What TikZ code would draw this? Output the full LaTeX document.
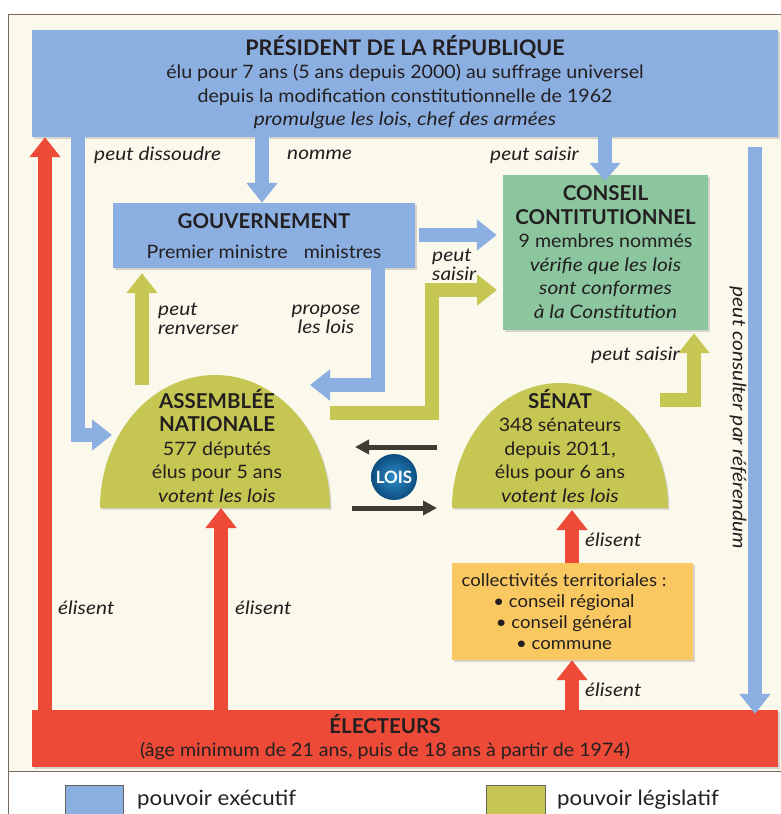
\documentclass[tikz,border=0pt]{standalone}
\usepackage{fontspec}
\setmainfont{Lato}[UprightFeatures={FakeStretch=1.06}, ItalicFeatures={FakeStretch=1.13}, BoldFeatures={FakeStretch=1.0}, BoldItalicFeatures={FakeStretch=1.0}]
\usetikzlibrary{arrows.meta,shadows,calc}
\definecolor{bgc}{RGB}{251,248,236}
\definecolor{framec}{RGB}{120,105,95}
\definecolor{cblue}{RGB}{140,175,225}
\definecolor{colive}{RGB}{197,199,82}
\definecolor{cgreen}{RGB}{140,198,158}
\definecolor{cred}{RGB}{238,74,56}
\definecolor{cyel}{RGB}{249,200,96}
\definecolor{cdark}{RGB}{62,58,52}
\definecolor{cloisin}{RGB}{45,140,200}
\definecolor{cloisout}{RGB}{14,78,128}
\definecolor{ctext}{RGB}{35,31,32}
\begin{document}
\begin{tikzpicture}[x=1pt,y=-1pt,
  every node/.style={text=ctext},
  body/.style={font=\fontsize{18.5}{23.5}\selectfont},
  big/.style={font=\fontsize{20.5}{24}\selectfont\bfseries},
  lbl/.style={font=\fontsize{18.5}{19}\selectfont\itshape, inner sep=0pt},
  box/.style={draw=none, inner sep=0pt, drop shadow={shadow xshift=1.5pt, shadow yshift=-1.5pt, opacity=0.3}},
  band/.style={line width=14pt, -{Triangle[width=30pt,length=20pt]}},
  bluearr/.style={band, draw=cblue},
  redarr/.style={band, draw=cred},
  olivearr/.style={band, draw=colive},
  darkarr/.style={line width=5pt, draw=cdark, -{Triangle[width=14pt,length=14pt]}},
  legsq/.style={draw=ctext!70, line width=0.6pt}
]
\useasboundingbox (0,0) rectangle (781,814);
\fill[white] (0,0) rectangle (781,814);
\fill[bgc] (8,14) rectangle (781,771);
\draw[framec, line width=0.8pt] (8,814) -- (8,14) -- (781,14);
\draw[framec, line width=0.8pt] (8,771) -- (781,771);

% boxes
\node[box, fill=cblue, minimum width=746pt, minimum height=107pt] (pres) at (405,83.5) {};
\node[body, align=center] (ptxt) at (405,82) {{\fontsize{21.5}{24}\selectfont\bfseries PRÉSIDENT DE LA RÉPUBLIQUE}\\
 élu pour 7 ans (5 ans depuis 2000) au suffrage universel\\
 depuis la modification constitutionnelle de 1962\\
 \itshape promulgue les lois, chef des armées};

\node[box, fill=cblue, minimum width=302pt, minimum height=65pt] (gov) at (264,235.5) {};
\node[big] (govt) at (264,221) {GOUVERNEMENT};
\node[body] (govm) at (264,252) {Premier ministre\hspace{16pt}ministres};

\node[box, fill=cgreen, minimum width=205pt, minimum height=155pt] (cc) at (605.5,252.5) {};
\node[body, align=center] (cct) at (605.5,252) {{\fontsize{20.5}{24}\selectfont\bfseries CONSEIL}\\
 {\fontsize{20.5}{24}\selectfont\bfseries CONTITUTIONNEL}\\
 9 membres nommés\\
 \itshape vérifie que les lois\\
 \itshape sont conformes\\
 \itshape à la Constitution};

\node[box, fill=cyel, minimum width=241pt, minimum height=97pt] (coll) at (572.5,611.5) {};
\node[font=\fontsize{17.5}{21}\selectfont, align=center] (collt) at (564,612) {collectivités territoriales :\\
 • conseil régional\\ • conseil général\\ • commune};

\node[box, fill=cred, minimum width=746pt, minimum height=57pt] (elec) at (405,738.5) {};
\node[body, align=center] (elect) at (385,737) {{\fontsize{20.5}{23}\selectfont\bfseries ÉLECTEURS}\\
 (âge minimum de 21 ans, puis de 18 ans à partir de 1974)};

% domes
\path[fill=colive, drop shadow={shadow xshift=1.5pt, shadow yshift=-1.5pt, opacity=0.3}]
  (100,508) arc[start angle=180, end angle=0, x radius=115pt, y radius=133pt] -- cycle;
\node[body, align=center] (an) at (217,446) {{\fontsize{20.5}{24.5}\selectfont\bfseries ASSEMBLÉE}\\
 {\fontsize{20.5}{24.5}\selectfont\bfseries NATIONALE}\\
 577 députés\\ élus pour 5 ans\\ \itshape votent les lois};
\path[fill=colive, drop shadow={shadow xshift=1.5pt, shadow yshift=-1.5pt, opacity=0.3}]
  (452,508) arc[start angle=180, end angle=0, x radius=108pt, y radius=125pt] -- cycle;
\node[body, align=center] (sen) at (560,446) {{\fontsize{20.5}{24.5}\selectfont\bfseries SÉNAT}\\
 348 sénateurs\\ depuis 2011,\\ élus pour 6 ans\\ \itshape votent les lois};

% coordinates for connectors
\coordinate (xred) at (45,0);
\coordinate (xdis) at (78,435);
\coordinate (andis) at (112,435);
\coordinate (xnom) at (262,0);
\coordinate (xps) at (605,0);
\coordinate (xref) at (755,147);
\coordinate (xpro) at (378,385);
\coordinate (anpro) at (310,385);
\coordinate (xren) at (142,385);
\coordinate (anr) at (330,413);
\coordinate (anrb) at (432,413);
\coordinate (ccl) at (497,290);
\coordinate (senr) at (660,400);
\coordinate (senrb) at (694,400);
\coordinate (xan) at (221,508);
\coordinate (xcol) at (572,0);
\coordinate (senb) at (572,510);
\coordinate (loisl1) at (437,447);
\coordinate (loisl2) at (355,447);
\coordinate (loisr1) at (352,508);
\coordinate (loisr2) at (437,508);

% arrows
\draw[redarr] (elec.north -| xred) -- (pres.south -| xred);
\draw[bluearr] (pres.south -| xdis) -- (xdis) -- (andis);
\draw[bluearr] (pres.south -| xnom) -- (gov.north -| xnom);
\draw[bluearr, -{Triangle[width=30pt,length=18pt]}] (pres.south -| xps) -- ([yshift=-6pt]cc.north -| xps);
\draw[bluearr] (xref) -- ([yshift=-4pt]elec.north -| xref);
\draw[bluearr] ([xshift=4pt]gov.east |- 0,235) -- ([xshift=-6pt]cc.west |- 0,235);
\draw[bluearr] (gov.south -| xpro) -- (xpro) -- (anpro);
\draw[olivearr] (xren) -- ([yshift=-5pt]gov.south -| xren);
\draw[olivearr] (anr) -- (anrb) -- (anrb |- ccl) -- (ccl);
\draw[olivearr] (senr) -- (senrb) -- ([yshift=-3pt]cc.south -| senrb);
\draw[redarr] (elec.north -| xan) -- (xan);
\draw[redarr] (elec.north -| xcol) -- (coll.south -| xcol);
\draw[redarr] (coll.north -| xcol) -- (senb);
\draw[darkarr] (loisl1) -- (loisl2);
\draw[darkarr] (loisr1) -- (loisr2);
\node[circle, minimum size=46pt, inner sep=0pt, inner color=cloisin, outer color=cloisout, text=white, font=\fontsize{17}{18}\selectfont\bfseries] (lois) at (394,477) {LOIS};

% labels
\node[lbl, anchor=west] (l1) at (94,155) {peut dissoudre};
\node[lbl, anchor=west] (l2) at (287,155) {nomme};
\node[lbl, anchor=west] (l3) at (490,155) {peut saisir};
\node[lbl, align=left, anchor=west, font=\fontsize{18.5}{19}\selectfont\itshape] (l4) at (432,265) {peut\\saisir};
\node[lbl, align=left, anchor=west, font=\fontsize{18.5}{19}\selectfont\itshape] (l5) at (158,319) {peut\\renverser};
\node[lbl, align=center, font=\fontsize{18.5}{19}\selectfont\itshape] (l6) at (326,319) {propose\\les lois};
\node[lbl, anchor=east] (l7) at (680,355) {peut saisir};
\node[lbl, rotate=-90] (l8) at (738,418) {peut consulter par référendum};
\node[lbl, anchor=west] (e1) at (58,608) {élisent};
\node[lbl, anchor=west] (e2) at (235,608) {élisent};
\node[lbl, anchor=west] (e3) at (585,540) {élisent};
\node[lbl, anchor=west] (e4) at (585,690) {élisent};

% legend
\draw[legsq, fill=cblue] (65,785) rectangle (123,820);
\node[font=\fontsize{21}{22}\selectfont, anchor=west, inner sep=0pt] (leg1) at (137,800) {pouvoir exécutif};
\draw[legsq, fill=colive] (486,785) rectangle (545,820);
\node[font=\fontsize{21}{22}\selectfont, anchor=west, inner sep=0pt] (leg2) at (557,800) {pouvoir législatif};
\end{tikzpicture}
\end{document}
